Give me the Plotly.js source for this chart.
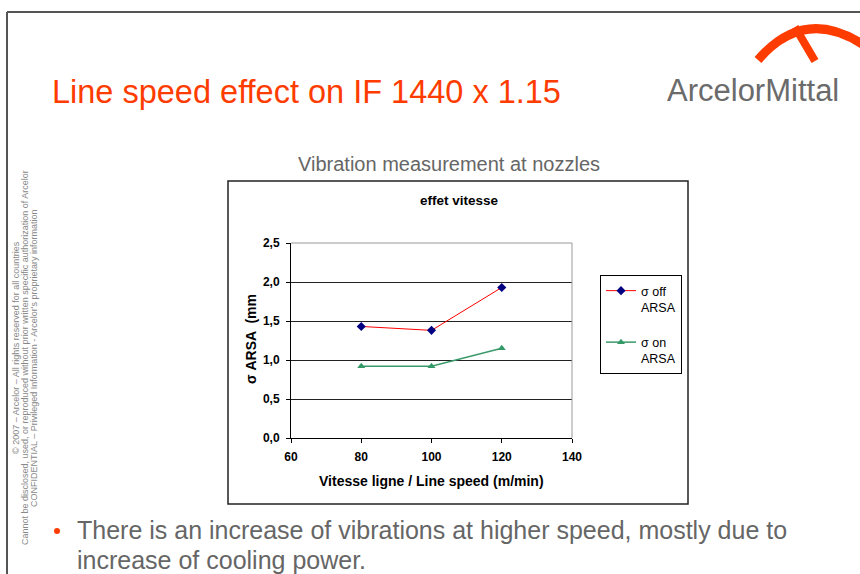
<!DOCTYPE html>
<html><head><meta charset="utf-8">
<script src="https://cdn.plot.ly/plotly-3.0.1.min.js"></script>
<style>html,body{margin:0;padding:0;background:#fff}#chart{width:860px;height:574px}</style>
</head><body><div id="chart"></div>
<script>
// ---- data ----
const speeds = [80, 100, 120];
const sigmaOff = [1.43, 1.38, 1.93];
const sigmaOn = [0.92, 0.92, 1.15];
const xTicks = [60, 80, 100, 120, 140];
const yTicks = [0, 0.5, 1.0, 1.5, 2.0, 2.5];
const seriesNames = ['σ off<br>ARSA', 'σ on<br>ARSA'];
const slideTitle = 'Line speed effect on IF 1440 x 1.15';
const chartHeading = 'Vibration measurement at nozzles';
const chartTitle = 'effet vitesse';
const xTitle = 'Vitesse ligne / Line speed (m/min)';
const yTitle = 'σ ARSA  (mm';
const bulletLines = ['There is an increase of vibrations at higher speed, mostly due to', 'increase of cooling power.'];
const copyLines = ['© 2007 – Arcelor – All rights reserved for all countries',
  'Cannot be disclosed, used, or reproduced without prior written specific authorization of Arcelor',
  'CONFIDENTIAL – Privileged Information - Arcelor\'s proprietary information'];

// ---- layout helpers (pixel -> paper, margins are 0) ----
const W = 860, H = 574;
const px = x => x / W, py = y => 1 - y / H;
const FONT = 'Liberation Sans, Arial, sans-serif';
const ORANGE = '#ff3c00';

const traces = [
  {x: speeds, y: sigmaOff, name: seriesNames[0], type: 'scatter', mode: 'lines+markers',
   legendgroup: 'a',
   line: {color: '#ff0000', width: 1}, marker: {symbol: 'diamond', size: 7, color: '#000080'}},
  {x: speeds, y: sigmaOn, name: seriesNames[1], type: 'scatter', mode: 'lines+markers',
   legendgroup: 'b',
   line: {color: '#3a9a6a', width: 1.5}, marker: {symbol: 'triangle-up', size: 7, color: '#339966'}}
];

function line(x0, y0, x1, y1, color, width) {
  return {type: 'line', xref: 'paper', yref: 'paper', x0: px(x0), y0: py(y0), x1: px(x1), y1: py(y1),
    line: {color: color, width: width}, layer: 'above'};
}
function pathPx(pts) {
  return pts.map(p => p[0] + ' ' + p.slice(1).reduce((a, v, i) => a.concat(i % 2 === 0 ? px(v) : py(v)), []).join(',')).join(' ');
}

const shapes = [
  line(7, 12, 860, 12, '#555', 2),
  line(7, 12, 7, 574, '#555', 2),
  {type: 'rect', xref: 'paper', yref: 'paper', x0: px(228), y0: py(504), x1: px(688), y1: py(181),
   line: {color: '#222', width: 1.5}, layer: 'below'},
  line(291, 243, 572, 243, '#999', 1),
  line(572, 243, 572, 438, '#999', 1),
  {type: 'path', xref: 'paper', yref: 'paper', path: pathPx([['M', 758, 60], ['Q', 806, 4, 868, 48]]),
   line: {color: ORANGE, width: 9}, layer: 'above'},
  {type: 'path', xref: 'paper', yref: 'paper', path: pathPx([['M', 795, 27], ['L', 815, 61]]),
   line: {color: ORANGE, width: 8}, layer: 'above'},
  {type: 'circle', xref: 'paper', yref: 'paper', x0: px(54), y0: py(534), x1: px(60), y1: py(528),
   fillcolor: ORANGE, line: {width: 0}}
];

function ann(text, x, y, opts) {
  return Object.assign({text: text, xref: 'paper', yref: 'paper', x: px(x), y: py(y), showarrow: false,
    xanchor: 'center', yanchor: 'middle', font: {family: FONT, size: 12, color: '#000'}}, opts || {});
}

const annotations = [
  ann(slideTitle, 50, 92, {xanchor: 'left', font: {family: FONT, size: 32.5, color: ORANGE}}),
  ann('ArcelorMittal', 665, 90, {xanchor: 'left', font: {family: FONT, size: 31, color: '#6b6b6b'}}),
  ann(chartHeading, 449, 164, {font: {family: FONT, size: 20, color: '#666'}}),
  ann(chartTitle, 459, 200, {font: {family: FONT, size: 13.5, color: '#000', weight: 'bold'}}),
  ann(xTitle, 431, 481, {font: {family: FONT, size: 14, color: '#000', weight: 'bold'}}),
  ann(yTitle, 251, 339, {textangle: -90, font: {family: FONT, size: 14, color: '#000', weight: 'bold'}}),
  ann(copyLines[0], 16, 348, {textangle: -90, font: {family: FONT, size: 9, color: '#888'}}),
  ann(copyLines[1], 25, 358, {textangle: -90, font: {family: FONT, size: 9, color: '#888'}}),
  ann(copyLines[2], 34, 358, {textangle: -90, font: {family: FONT, size: 9, color: '#888'}}),
  ann(bulletLines[0], 75, 530, {xanchor: 'left', font: {family: FONT, size: 25, color: '#666'}}),
  ann(bulletLines[1], 75, 560, {xanchor: 'left', font: {family: FONT, size: 25, color: '#666'}})
];

const layout = {
  width: W, height: H,
  margin: {l: 0, r: 0, t: 0, b: 0, pad: 0},
  paper_bgcolor: '#fff', plot_bgcolor: 'rgba(0,0,0,0)',
  separators: ',.',
  font: {family: FONT, size: 12, color: '#000'},
  showlegend: true,
  legend: {x: px(600), y: py(275), xanchor: 'left', yanchor: 'top', bgcolor: '#fff',
    bordercolor: '#000', borderwidth: 1, font: {family: FONT, size: 12.5, color: '#000'},
    traceorder: 'grouped', tracegroupgap: 16, valign: 'top'},
  xaxis: {domain: [px(291), px(572)], range: [60, 140], tickvals: xTicks, ticks: 'outside', ticklen: 4,
    tickcolor: '#000', showline: true, linecolor: '#000', linewidth: 1, showgrid: false, zeroline: false,
    ticklabelstandoff: 4,
    tickfont: {family: FONT, size: 12, color: '#000', weight: 'bold'}, fixedrange: true},
  yaxis: {domain: [py(438), py(243)], range: [0, 2.5], tickvals: yTicks, tickformat: '.1f', ticks: 'outside',
    ticklen: 4, tickcolor: '#000', showline: true, linecolor: '#000', linewidth: 1, showgrid: true,
    gridcolor: '#222', gridwidth: 1, zeroline: false, ticklabelstandoff: 4,
    tickfont: {family: FONT, size: 12, color: '#000', weight: 'bold'}, fixedrange: true},
  shapes: shapes,
  annotations: annotations
};

Plotly.newPlot('chart', traces, layout, {displayModeBar: false, staticPlot: true});
</script></body></html>
